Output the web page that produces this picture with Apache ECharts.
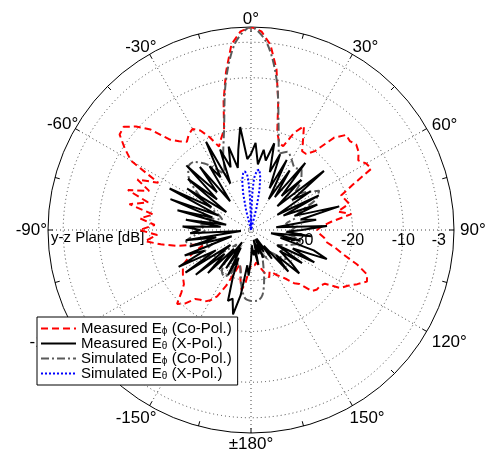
<!DOCTYPE html>
<html>
<head>
<meta charset="utf-8">
<script src="https://cdn.jsdelivr.net/npm/echarts@6/dist/echarts.min.js"></script>
<style>
  html, body { margin: 0; padding: 0; background: #fff; }
  #chart { width: 494px; height: 455px; }
</style>
</head>
<body>
<div id="chart"></div>
<script>
// angles in degrees, 0 at top, clockwise positive, -180..180
// measured E-phi (co-pol), every 3 deg from -180
var measCoStep = 3;
var measCo = [
  -33, -32, -29.5, -28, -30, -32, -33, -31, -28, -25.3,
  -24, -23.2, -23, -22.5, -20.5, -19.4, -21.5, -23, -23.5, -24,
  -24.5, -25, -26.5, -28, -30, -29, -25, -22, -19, -21.5,
  -18, -21, -18, -20.5, -15.5, -19, -14.5, -18.5, -15.5, -19.5,
  -12.7, -10.3, -8, -7.7, -9.5, -12, -16, -17.5, -18.5, -17.5,
  -17, -18, -20, -22.4, -21, -19.5, -14, -8.5, -3.2, -0.8,
  0,
  -0.8, -3.3, -7.9, -14.2, -20, -22, -22.3, -19, -17, -19.5,
  -21.5, -21.5, -20, -15.5, -13.5, -13.8, -13.3, -13.8, -14.8, -13.8,
  -13.4, -18, -21, -20.5, -20, -22.5, -20, -24, -26, -27,
  -26.5, -25.5, -25, -23, -21, -18, -15.5, -15, -16.5, -18,
  -19, -22, -22.5, -22.5, -23, -25.7, -26.5, -28, -29, -29.7,
  -30.5, -31, -30, -31, -32, -33, -33.5, -33, -33, -33
];

// measured E-theta (x-pol), every 3 deg from -180
var measXStep = 3;
var measX = [
  -34, -31, -33, -27, -23, -26, -25.3, -30, -34, -30,
  -36, -31, -37, -30, -35, -28, -33, -26, -35, -24.6,
  -32, -24, -30, -26, -36, -27.5, -33, -27, -38, -28,
  -30, -26.5, -34, -27, -35, -25, -32, -23, -33, -22,
  -31, -25, -34, -24, -31, -22, -30, -24, -33, -25,
  -28, -20.5, -30, -23, -27, -23, -27.5, -24, -19.6, -26,
  -25,
  -22.8, -27, -24, -26, -22.3, -28, -24, -31, -24.5, -33,
  -26, -32, -23, -31, -26, -33, -21.5, -30, -26, -34,
  -25, -33, -26, -31, -22, -30, -27, -35, -25, -30,
  -33, -28, -36, -30, -34, -27, -24, -31, -26, -34,
  -28, -33, -30, -27.2, -33, -29, -36, -33, -38, -35,
  -38, -34, -37, -35, -38, -33, -36, -35, -37, -34
];

// simulated E-phi (co-pol), every 5 deg from -180
var simCoStep = 5;
var simCo = [
  -26, -26.5, -29, -32, -33, -30.5, -29.5, -30, -33, -36,
  -34, -31, -29.5, -30, -32, -29, -27, -29, -31, -30,
  -32, -31, -34, -33, -30, -27, -24, -22.5, -22.5, -24,
  -26, -28, -24, -19.5, -11, -3.2,
  0,
  -3.2, -10.5, -19, -24, -23, -24, -25, -24.5, -26, -29,
  -27, -24.5, -26, -30, -31, -33, -31, -32, -33, -31,
  -30, -31.5, -33, -34, -32, -31, -33, -34.5, -34, -33.5,
  -35, -33, -30, -27, -26, -26
];

// simulated E-theta (x-pol), only visible near boresight
var simXAngles = [-16, -14, -12, -10, -8, -6, -4, -3, -2, -1, 0, 1, 2, 3, 4, 6, 8, 10, 12, 14, 16];
var simX = [-40, -36, -32.5, -30, -28.8, -28.4, -29, -30.5, -33, -37, -40, -37, -33, -30.5, -29.2, -28.2, -28, -29.5, -32, -35.5, -40];

var radialTicks = [-30, -20, -10, -3];
var seriesNames = ['Measured E\u03d5 (Co-Pol.)', 'Measured E\u03b8 (X-Pol.)',
                   'Simulated E\u03d5 (Co-Pol.)', 'Simulated E\u03b8 (X-Pol.)'];

// per-label nudges so the angle labels sit centred just outside the rim
var anglePad = {
  '0': [0, 0, 13, 0], '30': [0, 0, 11, 7], 'n30': [0, 0, 11, 0],
  '60': [0, 0, 2, 17], 'n60': [0, 9, 3, 0], '90': [0, 0, 0, 20], 'n90': [0, 15, 0, 0],
  '120': [9, 0, 0, 17], 'n120': [9, 17, 0, 0], '150': [16, 0, 0, 4], 'n150': [16, 0, 0, 0],
  '180': [17, 0, 0, 0]
};

// angle axis runs 90..450 so that the radius labels sit on the 90 deg spoke
function axisAngle(a) {
  return ((a - 90) % 360 + 360) % 360 + 90;
}
function stepped(vals, start, step) {
  return vals.map(function (v, i) { return [v, axisAngle(start + i * step)]; });
}
function paired(angles, vals) {
  return vals.map(function (v, i) { return [v, axisAngle(angles[i])]; });
}

var font = '"Liberation Sans", Arial, Helvetica, sans-serif';
var angleRich = {};
Object.keys(anglePad).forEach(function (k) {
  angleRich['p' + k] = { padding: anglePad[k], fontSize: 17, fontFamily: font, color: '#000' };
});

var chart = echarts.init(document.getElementById('chart'));

chart.setOption({
  animation: false,
  backgroundColor: '#fff',
  polar: { center: [251, 230], radius: 203 },
  angleAxis: {
    type: 'value', min: 90, max: 450, interval: 30,
    startAngle: 0, clockwise: true,
    axisLine: { lineStyle: { color: '#000', width: 1 } },
    axisTick: { inside: true, length: 5, lineStyle: { color: '#000' } },
    minorTick: { show: true, splitNumber: 2, length: 5, lineStyle: { color: '#000' } },
    splitLine: { show: true, lineStyle: { color: '#444', type: [1, 3], width: 1 } },
    axisLabel: {
      margin: -14, fontSize: 17, color: '#000', fontFamily: font,
      rich: angleRich,
      formatter: function (v) {
        var d = v % 360;
        if (d > 180) d -= 360;
        var key = d < 0 ? 'n' + (-d) : String(d);
        var txt = d === 180 ? '\u00b1180\u00b0' : d + '\u00b0';
        return '{p' + key + '|' + txt + '}';
      }
    }
  },
  radiusAxis: {
    type: 'value', min: -40, max: 0,
    axisLine: { show: false },
    axisTick: { show: false, customValues: radialTicks },
    splitLine: { show: true, lineStyle: { color: '#444', type: [1, 3], width: 1 } },
    axisLabel: {
      customValues: radialTicks, fontSize: 16, color: '#000', fontFamily: font,
      margin: -3, verticalAlign: 'top', align: 'center'
    }
  },
  legend: {
    orient: 'vertical', left: 37, top: 317,
    data: seriesNames,
    backgroundColor: '#fff', borderColor: '#000', borderWidth: 1,
    padding: [4, 6, 4, 3],
    itemWidth: 35, itemHeight: 10, itemGap: 0,
    itemStyle: { opacity: 0 },
    lineStyle: { opacity: 1 },
    textStyle: {
      fontSize: 15, color: '#000', fontFamily: font,
      rich: {
        a: { fontSize: 15, fontFamily: font, lineHeight: 15 },
        s: { fontSize: 10, fontFamily: font, verticalAlign: 'bottom', lineHeight: 11 }
      }
    },
    formatter: function (name) {
      var m = name.match(/^(.*E)(.)( .*)$/);
      return '{a|' + m[1] + '}{s|' + m[2] + '}{a|' + m[3] + '}';
    }
  },
  graphic: [{
    type: 'text', left: 51, top: 230,
    style: { text: 'y-z Plane [dB]', fill: '#000', font: '15px ' + font }
  }],
  series: [
    {
      name: seriesNames[0], type: 'line', coordinateSystem: 'polar', symbol: 'none',
      lineStyle: { color: '#ff0000', width: 2, type: [7, 4] }, itemStyle: { color: '#ff0000' },
      data: stepped(measCo, -180, measCoStep)
    },
    {
      name: seriesNames[2], type: 'line', coordinateSystem: 'polar', symbol: 'none', smooth: 0.3,
      lineStyle: { color: '#5a5a5a', width: 2, type: [8, 3, 2, 3] }, itemStyle: { color: '#5a5a5a' },
      data: stepped(simCo, -180, simCoStep)
    },
    {
      name: seriesNames[1], type: 'line', coordinateSystem: 'polar', symbol: 'none',
      lineStyle: { color: '#000', width: 2 }, itemStyle: { color: '#000' },
      data: stepped(measX, -180, measXStep)
    },
    {
      name: seriesNames[3], type: 'line', coordinateSystem: 'polar', symbol: 'none',
      lineStyle: { color: '#0000ff', width: 2, type: [2, 2] }, itemStyle: { color: '#0000ff' },
      data: paired(simXAngles, simX)
    }
  ]
});
</script>
</body>
</html>
